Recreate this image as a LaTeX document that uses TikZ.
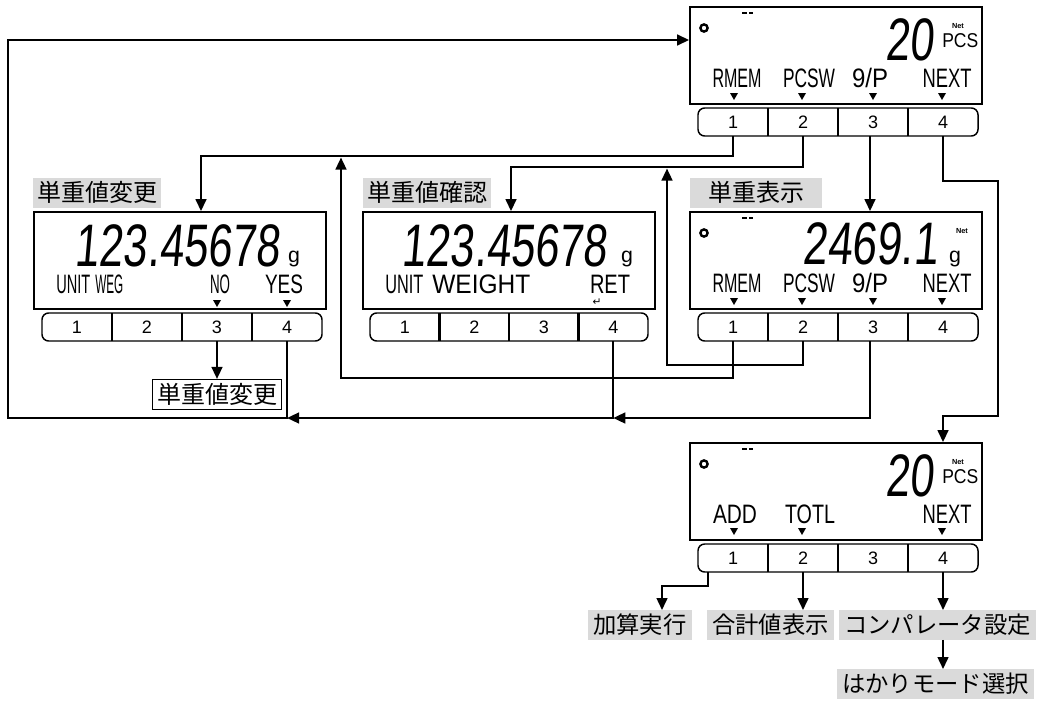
\documentclass[tikz,border=0pt]{standalone}
\usepackage{fontspec}
\usepackage{graphicx}
\setmainfont{Liberation Sans}
\newfontfamily\jp{Noto Sans CJK JP}
\newfontfamily\lcdnum[FakeSlant=0.12]{Liberation Sans}
\newfontfamily\lcdtxt{Liberation Sans}
\newfontfamily\symfont{DejaVu Sans}
\usetikzlibrary{arrows.meta,fit,calc}
\newdimen\pxu \pxu=0.75pt
\newcommand\fitw[2]{\resizebox{#1\pxu}{\height}{#2}}
\definecolor{lcdgray}{RGB}{218,218,218}
\newcommand\lcdtri[2]{\fill (#1-4,#2) -- (#1+4,#2) -- (#1,#2+7) -- cycle;}
\newcommand\lcdmarks[1]{%
  \draw[line width=1.8pt] (704,28+#1) circle (2.7pt);
  \fill (742,11.5+#1) rectangle (746.5,14+#1);
  \fill (748.5,11.5+#1) rectangle (753,14+#1);
}
\newcommand\keyrow[5]{%
  \draw[keyframe] (#2,#3) rectangle ({#2+4*#4},{#3+#5});
  \foreach \k in {1,2,3}{\draw[keydiv] ({#2+\k*#4},#3) -- ({#2+\k*#4},{#3+#5});}
  \foreach \k in {1,2,3,4}{%
    \node[keylab, minimum width={#4*0.75pt}, minimum height={#5*0.75pt}] (#1\k) at ({#2+(\k-0.5)*#4},{#3+#5/2}) {\k};
  }
}
\tikzset{
  screen/.style={draw, line width=1.3pt, inner sep=0pt},
  keyframe/.style={draw, line width=1.1pt, rounded corners=5pt},
  keydiv/.style={line width=1.8pt},
  keylab/.style={inner sep=0pt, font=\fontsize{13.5}{13.5}\selectfont},
  conn/.style={line width=1.7pt, -{Triangle[length=9pt,width=8pt]}},
  bigdig/.style={inner sep=0pt, text depth=0pt, font=\lcdnum\fontsize{45}{45}\selectfont},
  soft/.style={inner sep=0pt, anchor=base, font=\lcdtxt\fontsize{20}{20}\selectfont},
  pcs/.style={inner sep=0pt, font=\lcdtxt\fontsize{15}{15}\selectfont},
  unitg/.style={inner sep=0pt, anchor=base, font=\fontsize{16}{16}\selectfont},
  netlab/.style={inner sep=0pt, font=\bfseries\fontsize{5.5}{5.5}\selectfont},
  retsym/.style={inner sep=0pt, font=\symfont\fontsize{8}{8}\selectfont},
  graylab/.style={fill=lcdgray, inner xsep=3pt, inner ysep=2.25pt, text height=15.6pt, text depth=2.4pt, font=\jp\fontsize{18}{18}\selectfont},
  graylabs/.style={fill=lcdgray, inner xsep=3.75pt, inner ysep=2.25pt, text height=15.2pt, text depth=2.3pt, font=\jp\fontsize{17.5}{17.5}\selectfont},
  wbox/.style={draw, line width=0.8pt, fill=white, inner xsep=3.4pt, inner ysep=2.25pt, text height=15.6pt, text depth=2.4pt, font=\jp\fontsize{18}{18}\selectfont},
}
\begin{document}
\begin{tikzpicture}[x=0.75pt,y=-0.75pt]
\useasboundingbox[fill=white] (0,0) rectangle (1044,703);

% ---------- top display ----------
\node[screen, fit={(690,7) (982,104)}] (sT) {};
\lcdmarks{0}
\node[bigdig, anchor=base east] (tNum) at (934,60) {\fitw{48}{20}};
\node[netlab] (tNet) at (958,26) {Net};
\node[pcs, anchor=base west] (tPcs) at (942,47) {\fitw{36}{PCS}};
\node[soft] (tS1) at (737,87) {\fitw{49}{RMEM}};
\node[soft] (tS2) at (809,87) {\fitw{52}{PCSW}};
\node[soft] (tS3) at (870,87) {\fitw{36}{9/P}};
\node[soft] (tS4) at (947,87) {\fitw{49}{NEXT}};
\lcdtri{734}{93}\lcdtri{802}{93}\lcdtri{873}{93}\lcdtri{942}{93}
\keyrow{t}{698}{108}{70}{28}

% ---------- left display ----------
\node[graylab, anchor=west] (lbL) at (33,192.5) {単重値変更};
\node[screen, fit={(34,212) (326,309)}] (sL) {};
\node[bigdig, anchor=base east] (lNum) at (280,266) {\fitw{205}{123.45678}};
\node[unitg] (lG) at (294,262) {g};
\node[soft, anchor=base west] (lS1) at (56,293) {\fitw{34}{UNIT}};
\node[soft, anchor=base west] (lS2) at (95,293) {\fitw{28}{WEG}};
\node[soft] (lS3) at (220,293) {\fitw{20}{NO}};
\node[soft] (lS4) at (284,293) {\fitw{38}{YES}};
\lcdtri{217}{300}\lcdtri{287}{300}
\keyrow{l}{42}{313}{70}{28}
\node[wbox] (chg) at (217,394.5) {単重値変更};

% ---------- middle display ----------
\node[graylab, anchor=west] (lbM) at (363,192.5) {単重値確認};
\node[screen, fit={(363,212) (655,309)}] (sM) {};
\node[bigdig, anchor=base east] (mNum) at (607,266) {\fitw{205}{123.45678}};
\node[unitg] (mG) at (627,262) {g};
\node[soft, anchor=base west] (mS1) at (385,293) {\fitw{38}{UNIT}};
\node[soft, anchor=base west] (mS2) at (432,293) {\fitw{98}{WEIGHT}};
\node[soft] (mS3) at (610,293) {\fitw{40}{RET}};
\node[retsym] (mRet) at (597,302) {↵};
\keyrow{m}{370}{313}{69.5}{28}

% ---------- right display ----------
\node[graylab, minimum width=99pt, anchor=west] (lbR) at (690,192.5) {単重表示};
\node[screen, fit={(690,212) (982,309)}] (sR) {};
\lcdmarks{205}
\node[bigdig, anchor=base east] (rNum) at (938,264) {\fitw{135}{2469.1}};
\node[netlab] (rNet) at (962,231) {Net};
\node[unitg] (rG) at (955,262) {g};
\node[soft] (rS1) at (737,292) {\fitw{49}{RMEM}};
\node[soft] (rS2) at (809,292) {\fitw{52}{PCSW}};
\node[soft] (rS3) at (870,292) {\fitw{36}{9/P}};
\node[soft] (rS4) at (947,292) {\fitw{49}{NEXT}};
\lcdtri{734}{298}\lcdtri{802}{298}\lcdtri{873}{298}\lcdtri{942}{298}
\keyrow{r}{698}{313}{70}{28}

% ---------- bottom display ----------
\node[screen, fit={(690,443) (982,540)}] (sB) {};
\lcdmarks{436}
\node[bigdig, anchor=base east] (bNum) at (934,496) {\fitw{48}{20}};
\node[netlab] (bNet) at (958,462) {Net};
\node[pcs, anchor=base west] (bPcs) at (942,483) {\fitw{36}{PCS}};
\node[soft] (bS1) at (735,523) {\fitw{44}{ADD}};
\node[soft] (bS2) at (810,523) {\fitw{50}{TOTL}};
\node[soft] (bS4) at (947,523) {\fitw{49}{NEXT}};
\lcdtri{734}{528}\lcdtri{802}{528}\lcdtri{942}{528}
\keyrow{b}{698}{544}{70}{28}

% ---------- bottom labels ----------
\node[graylabs, anchor=west] (add) at (588,625) {加算実行};
\node[graylabs, anchor=west] (tot) at (707,625) {合計値表示};
\node[graylabs, anchor=east] (cmp) at (1036,625) {コンパレータ設定};
\node[graylabs, anchor=east] (mode) at (1034,684) {はかりモード選択};

% ---------- connectors ----------
\coordinate (c1) at (201,156);
\draw[conn] (t1.south) |- (c1) -- (c1 |- sL.north);
\coordinate (c2) at (511,167);
\draw[conn] (t2.south) |- (c2) -- (c2 |- sM.north);
\coordinate (c3) at ([xshift=-2.25pt]t3.south);
\draw[conn] (c3) -- (c3 |- sR.north);
\coordinate (c4a) at (998,181);
\coordinate (c4b) at (943,416);
\draw[conn] (t4.south) |- (c4a) |- (c4b) -- (c4b |- sB.north);

\coordinate (c5) at (341,378);
\coordinate (c5e) at (341,157.5);
\draw[conn] (r1.south) |- (c5) -- (c5e);
\coordinate (c6) at (667,365);
\coordinate (c6e) at (667,168.5);
\draw[conn] (r2.south) |- (c6) -- (c6e);

\coordinate (yb) at (0,418);
\coordinate (r3o) at ([xshift=-2.25pt]r3.south);
\draw[conn] (r3o) |- (m4.south |- yb);
\draw[conn] (m4.south) |- (l4.south |- yb);
\coordinate (cw) at (8,40);
\draw[conn] (l4.south) |- (cw |- yb) -- (cw) -- (cw -| sT.west);

\draw[conn] (l3.south) -- (l3.south |- chg.north);

\coordinate (c7s) at ([xshift=-18.75pt]b1.south);
\coordinate (c7) at (662,586);
\draw[conn] (c7s) |- (c7) -- (c7 |- add.north);
\draw[conn] (b2.south) -- (b2.south |- tot.north);
\draw[conn] (b4.south) -- (b4.south |- cmp.north);
\draw[conn] (cmp.south -| b4.south) -- (b4.south |- mode.north);
\end{tikzpicture}
\end{document}
